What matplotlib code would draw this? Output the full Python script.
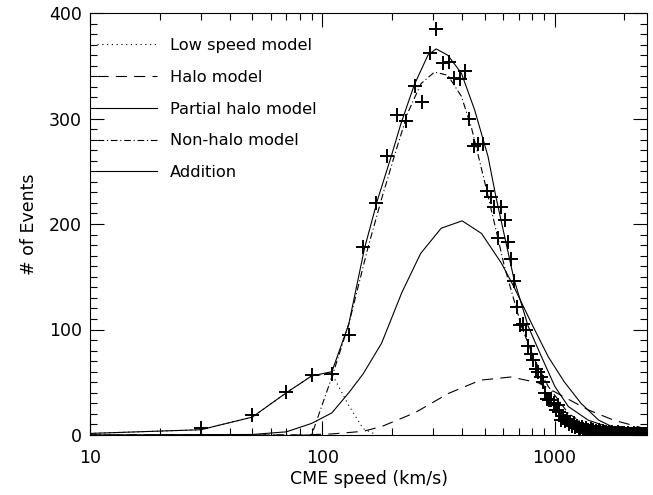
import numpy as np
import matplotlib.pyplot as plt
from matplotlib.ticker import FixedLocator, NullFormatter, MultipleLocator

# --- observed histogram (20 km/s bins) ---
speed = np.arange(30, 2500, 20)
counts = np.array([
    7, 19, 41, 57, 58, 95, 178, 220, 264, 303,          # 30 - 210
    298, 331, 316, 362, 385, 353, 354, 338, 337, 345,   # 230 - 410
    300, 274, 276, 276, 231, 226, 216, 187, 216, 204,   # 430 - 610
    183, 167, 146, 121, 104, 105, 100, 84, 77, 71,      # 630 - 810
    63, 60, 55, 50, 40, 34, 33, 33, 30, 24,             # 830 - 1010
    28, 22, 14, 18, 13, 15, 10, 12, 9, 11,              # 1030 - 1210
    8, 9, 7, 6, 8, 6, 5, 7, 5, 4,                       # 1230 - 1410
    6, 4, 5, 3, 4, 3, 5, 3, 2, 4,                       # 1430 - 1610
    3, 2, 3, 2, 3, 1, 2, 3, 1, 2,                       # 1630 - 1810
    2, 1, 3, 1, 2, 1, 2, 1, 2, 1,                       # 1830 - 2010
    0, 1, 2, 1, 0, 1, 1, 0, 2, 1,                       # 2030 - 2210
    0, 1, 1, 0, 1, 0, 1, 1, 0, 1,                       # 2230 - 2410
    0, 1, 0, 1,                                         # 2430 - 2490
])

# --- model curves ---
low_v = [10, 30, 50, 70, 90, 110, 130, 150, 170]
low_n = [1.5, 5, 17, 40, 56, 58, 28, 6, 0.5]

halo_v = [10, 80, 110, 150, 180, 250, 350, 480, 650, 850, 1100, 1400, 1800, 2400, 2500]
halo_n = [0, 0, 1, 3.5, 8, 21, 39.5, 52, 55, 49.5, 36, 23.7, 14, 6.6, 6]

part_v = [10, 50, 70, 90, 110, 130, 150, 180, 220, 265, 325, 400, 485, 590, 670,
          795, 940, 1100, 1300, 1550, 1820, 2200, 2500]
part_n = [0, 0.5, 3, 11, 21, 40, 58, 87, 135, 172, 196, 203, 191, 163, 140,
          106, 74, 50.5, 30, 14, 6.6, 3, 1.5]

non_v = [10, 90, 110, 130, 157, 179, 204, 233, 266, 304, 347, 397, 438, 500, 552,
         608, 720, 822, 939, 1146, 1398, 1822, 2500]
non_n = [0, 0, 55, 105, 177, 222, 264, 305, 333, 344, 341, 321, 292, 240, 200,
         160, 103, 71, 46, 20.5, 8, 2, 0.3]

add_v = [10, 30, 50, 70, 90, 110, 130, 152, 173, 198, 218, 249, 285, 309, 347,
         397, 453, 517, 560, 670, 770, 879, 1003, 1146, 1398, 1822, 2500]
add_n = [1.5, 5, 17, 40, 56, 60, 105, 177, 223, 264, 295, 332, 360, 366, 360,
         343, 308, 264, 225, 147, 103, 74, 46, 27, 14, 5.4, 1.5]

# --- Plot ---
fig = plt.figure(figsize=(6.53, 4.95), dpi=100)
ax = fig.add_axes([90/653, 60/495, 557/653, 422/495])

lw = 0.8
ax.plot(low_v, low_n, color='k', lw=lw, linestyle=(0, (1, 3.3)), label='Low speed model')
ax.plot(halo_v, halo_n, color='k', lw=lw, linestyle=(0, (10, 6.5)), label='Halo model')
ax.plot(part_v, part_n, color='k', lw=lw, linestyle='-', label='Partial halo model')
ax.plot(non_v, non_n, color='k', lw=lw, linestyle=(0, (6, 2.5, 1, 2.5)), label='Non-halo model')
ax.plot(add_v, add_n, color='k', lw=lw, linestyle='-', label='Addition')
ax.plot(speed, counts, '+', color='k', ms=10, mew=1.4)

ax.set_xscale('log')
ax.set_xlim(10, 2500)
ax.set_ylim(0, 400)

ax.xaxis.set_major_locator(FixedLocator([10, 100, 1000]))
ax.set_xticklabels(['10', '100', '1000'])
ax.xaxis.set_minor_locator(FixedLocator([k * 10**p for p in (1, 2, 3) for k in range(2, 10)]))
ax.xaxis.set_minor_formatter(NullFormatter())
ax.yaxis.set_major_locator(MultipleLocator(100))
ax.yaxis.set_minor_locator(MultipleLocator(10))

ax.tick_params(which='both', direction='in', top=True, right=True, width=0.8,
               labelsize=12.5, pad=6)
ax.tick_params(axis='x', which='both', pad=10)
ax.tick_params(which='major', length=10)
ax.tick_params(which='minor', length=5)
for s in ax.spines.values():
    s.set_linewidth(0.8)

ax.set_xlabel('CME speed (km/s)', fontsize=12.5, labelpad=2)
ax.set_ylabel('# of Events', fontsize=12.5, labelpad=8)

ax.legend(loc='upper left', bbox_to_anchor=(0.0126, 0.9406), frameon=False, fontsize=11.7,
          handlelength=3.7, handletextpad=0.8, labelspacing=1.03, borderaxespad=0,
          borderpad=0)

plt.savefig('out.png', dpi=100)
